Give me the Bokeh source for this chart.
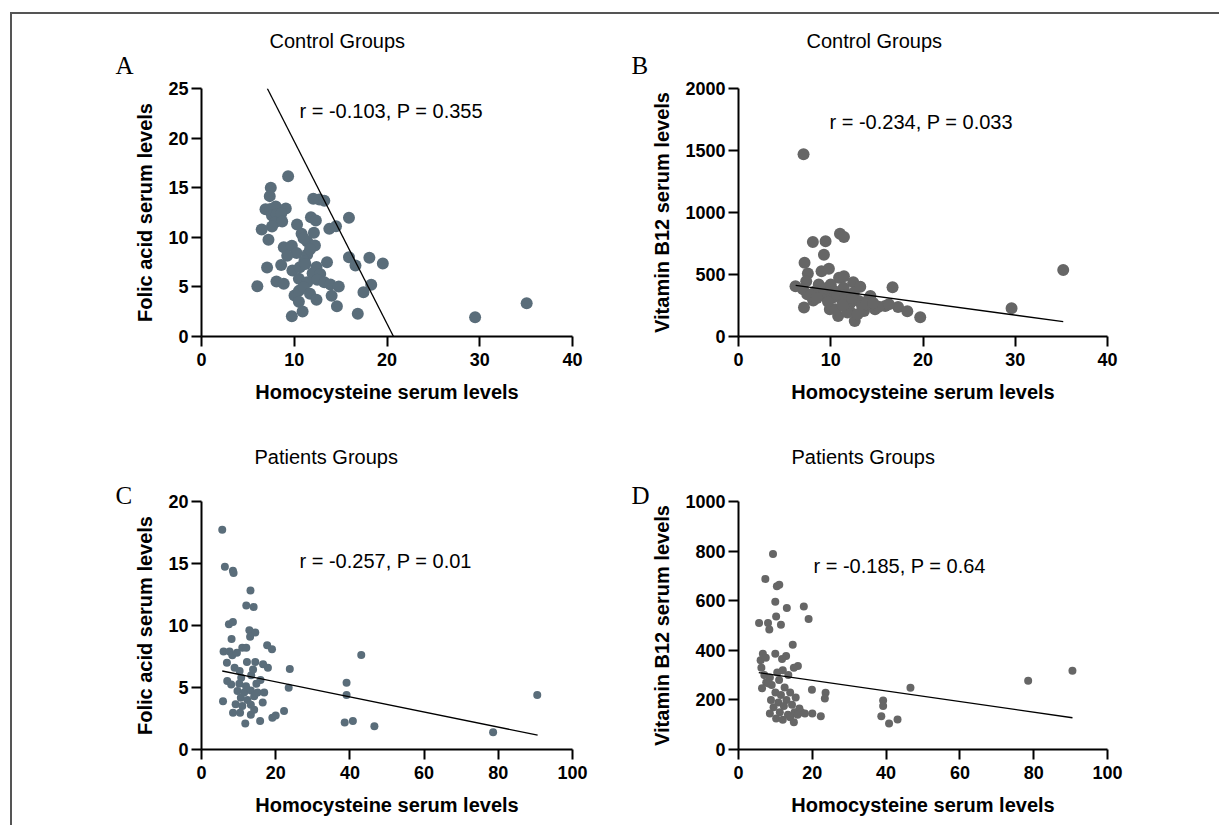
from bokeh.plotting import figure
from bokeh.layouts import row, column
from bokeh.models import Label, FixedTicker, Title, Div
from bokeh.embed import file_html
from bokeh.resources import INLINE

# ---------------- DATA ----------------
# Panel A: Control groups, Homocysteine vs Folic acid
a_hcy = [9.34, 7.47, 7.36, 12.05, 12.70, 13.24, 6.9, 7.43, 8.01, 9.09, 7.6, 8.1, 8.6,
         7.9, 8.7, 7.6, 11.8, 12.33, 15.9, 6.49, 10.3, 13.78, 14.5, 7.22, 10.79, 12.12,
         11.4, 12.23, 11.0, 8.87, 9.74, 10.25, 9.24, 11.4, 11.7, 11.1, 15.9, 18.1, 19.55,
         16.6, 13.53, 7.07, 8.59, 9.8, 10.6, 11.2, 12.4, 11.98, 12.8, 6.02, 8.08, 8.87,
         10.5, 11.4, 12.48, 13.24, 13.9, 14.8, 18.3, 17.46, 10.03, 10.5, 11.0, 11.7, 12.4,
         14.03, 14.6, 10.5, 10.9, 9.74, 16.85, 29.5, 35.06]
a_fol = [16.16, 14.99, 14.15, 13.88, 13.80, 13.68, 12.83, 12.85, 13.1, 12.9, 12.2, 12.3, 12.4,
         11.5, 11.6, 11.1, 12.03, 11.69, 11.96, 10.79, 11.29, 10.85, 11.12, 9.75, 10.35, 10.45,
         9.58, 9.17, 9.9, 8.99, 9.16, 8.42, 8.15, 8.27, 8.8, 7.6, 8.0, 7.93, 7.36,
         7.16, 7.49, 6.96, 7.2, 6.65, 6.99, 7.3, 7.0, 6.38, 6.3, 5.07, 5.54, 5.31,
         5.81, 5.48, 5.71, 5.48, 5.24, 5.04, 5.21, 4.47, 4.13, 4.6, 5.0, 4.3, 3.70,
         4.1, 3.06, 3.5, 2.52, 2.05, 2.29, 1.95, 3.36]
a_fit_x = [7.1, 20.7]
a_fit_y = [25.0, 0.0]

# Panel B: Control groups, Homocysteine vs Vitamin B12
b_hcy = [7.05, 11.0, 11.43, 8.06, 9.44, 9.26, 7.16, 9.0, 9.8, 7.52, 35.2, 16.7, 29.6, 19.7,
         7.1, 12.6, 10.8, 6.18, 7.34, 8.7, 10.9, 11.43, 12.44, 13.2, 10.38, 14.3, 15.9, 17.3,
         18.3, 14.8, 13.6, 12.04, 9.9, 8.1, 7.45, 9.4, 11.2, 12.15, 13.05, 14.1, 8.35, 9.26,
         11.4, 12.5, 10.2, 13.4, 11.8, 10.5, 7.0, 7.8, 8.5, 9.7, 10.7, 11.6, 12.3, 13.8,
         15.2, 16.3, 12.9, 11.3, 9.5, 10.0, 14.6]
b_b12 = [1469, 829, 803, 762, 768, 660, 594, 527, 546, 508, 537, 398, 227, 155,
         233, 125, 166, 406, 446, 420, 473, 486, 438, 401, 366, 326, 246, 238,
         203, 219, 205, 205, 219, 291, 340, 326, 299, 273, 287, 299, 366, 353,
         393, 353, 313, 246, 193, 219, 380, 330, 310, 280, 340, 330, 310, 260,
         240, 260, 180, 250, 390, 420, 270]
b_fit_x = [6.2, 35.2]
b_fit_y = [412, 120]

# Panel C: Patients groups, Homocysteine vs Folic acid
c_hcy = [5.59, 6.3, 8.47, 8.65, 13.2, 12.07, 14.05, 7.39, 8.47, 12.9, 14.5, 13.1, 8.1, 17.7,
         19.0, 5.95, 7.57, 8.3, 9.55, 10.99, 12.07, 43.06, 6.85, 8.92, 10.27, 12.25, 14.5,
         16.6, 17.9, 23.8, 6.94, 8.0, 10.7, 13.4, 13.9, 15.9, 23.5, 39.1, 39.1, 90.5,
         9.7, 11.5, 13.3, 15.1, 16.9, 10.6, 12.4, 14.2, 16.5, 9.2, 11.0, 13.3, 12.0, 14.8,
         10.2, 5.8, 8.5, 10.4, 13.3, 14.2, 19.1, 20.0, 22.25, 11.8, 15.8, 38.6, 40.8, 46.6, 78.6]
c_fol = [17.73, 14.74, 14.41, 14.23, 12.82, 11.61, 11.5, 10.1, 10.29, 9.62, 9.43, 9.1, 8.92, 8.4,
         8.08, 7.9, 7.9, 7.6, 7.8, 8.2, 8.2, 7.62, 7.0, 6.6, 6.33, 7.05, 7.05,
         6.88, 6.6, 6.49, 5.52, 5.25, 5.79, 5.98, 6.45, 5.6, 4.98, 5.39, 4.39, 4.39,
         4.71, 4.6, 4.75, 4.6, 4.6, 4.17, 4.0, 4.3, 3.8, 3.64, 3.5, 3.6, 5.1, 5.3,
         5.3, 3.9, 2.96, 2.96, 2.8, 3.2, 2.56, 2.74, 3.1, 2.1, 2.3, 2.18, 2.29, 1.88, 1.4]
c_fit_x = [5.6, 90.6]
c_fit_y = [6.33, 1.16]

# Panel D: Patients groups, Homocysteine vs Vitamin B12
d_hcy = [9.35, 7.28, 10.4, 11.05, 9.97, 13.1, 17.7, 19.0, 5.57, 8.0, 10.2, 11.5, 8.35, 14.7,
         6.6, 6.0, 7.4, 9.97, 12.9, 11.8, 16.1, 15.0, 6.2, 7.0, 8.5, 10.5, 12.0, 13.5, 11.0,
         9.0, 7.5, 6.38, 8.2, 12.5, 14.0, 10.0, 11.5, 13.0, 15.5, 8.8, 10.8, 12.3, 14.5, 16.5,
         9.5, 11.2, 8.5, 13.4, 15.2, 17.0, 10.2, 12.0, 14.0, 16.0, 18.0, 20.0, 22.3, 15.0,
         19.9, 23.6, 23.4, 46.6, 78.5, 90.5, 39.2, 39.2, 38.7, 40.8, 43.1]
d_b12 = [788, 688, 658, 664, 596, 571, 577, 526, 510, 510, 536, 503, 484, 422,
         386, 360, 370, 386, 377, 365, 337, 330, 330, 300, 290, 310, 320, 300, 280,
         260, 270, 247, 266, 250, 230, 230, 220, 200, 210, 200, 190, 175, 180, 165,
         170, 150, 145, 140, 150, 150, 125, 120, 130, 140, 145, 145, 134, 110,
         241, 229, 206, 249, 277, 318, 198, 175, 134, 105, 121]
d_fit_x = [5.5, 90.5]
d_fit_y = [310, 128]

x_label = "Homocysteine serum levels"
ticks_x_ctrl = [0, 10, 20, 30, 40]
ticks_x_pat = [0, 20, 40, 60, 80, 100]
ticks_y_a = [0, 5, 10, 15, 20, 25]
ticks_y_b = [0, 500, 1000, 1500, 2000]
ticks_y_c = [0, 5, 10, 15, 20]
ticks_y_d = [0, 200, 400, 600, 800, 1000]

SANS = "Liberation Sans"
SERIF = "Liberation Serif"
BLUE = "#5a6d7a"
GREY = "#666666"

# approximate font metrics (fraction of font size)
SANS_DESC = 0.212
SERIF_ASC, SERIF_DESC = 0.891, 0.216
LET_SIZE, TTL_SIZE = 25, 20


def panel(w, h, bl, br, bt, bb, xr, yr, xt, yt, ylab, xs, ys, fx, fy, color, msize,
          letter, letter_dx, letter_gap, title, title_dx, title_gap, note, note_pos):
    """letter_gap / title_gap: distance (px) from text baseline up to frame top."""
    p = figure(width=w, height=h, x_range=xr, y_range=yr, output_backend="svg",
               toolbar_location=None, min_border_left=bl, min_border_right=br,
               min_border_top=bt, min_border_bottom=bb)
    p.xgrid.visible = False
    p.ygrid.visible = False
    p.outline_line_color = None
    p.xaxis.ticker = FixedTicker(ticks=xt)
    p.yaxis.ticker = FixedTicker(ticks=yt)
    for ax in (p.xaxis[0], p.yaxis[0]):
        ax.axis_line_width = 2
        ax.axis_line_color = "black"
        ax.major_tick_line_width = 2
        ax.major_tick_line_color = "black"
        ax.major_tick_in = 0
        ax.major_tick_out = 10
        ax.minor_tick_line_color = None
        ax.major_label_text_font = SANS
        ax.major_label_text_font_style = "bold"
        ax.major_label_text_font_size = "18px"
        ax.major_label_text_color = "black"
        ax.axis_label_text_font = SANS
        ax.axis_label_text_font_style = "bold"
        ax.axis_label_text_font_size = "20px"
        ax.axis_label_text_color = "black"
    p.xaxis.major_label_standoff = 6
    p.yaxis.major_label_standoff = 3
    p.xaxis.axis_label = x_label
    p.yaxis.axis_label = ylab
    p.xaxis.axis_label_standoff = 12
    p.yaxis.axis_label_standoff = 9
    p.scatter(xs, ys, size=msize, fill_color=color, line_color=None)
    p.line(fx, fy, line_color="black", line_width=1.3)

    # letter title (nearest to frame), then group title above it
    l_h = (SERIF_ASC + SERIF_DESC) * LET_SIZE
    l_bottom = letter_gap - SERIF_DESC * LET_SIZE      # text-box bottom above frame top
    s1 = 2 * l_bottom
    top1 = 2 + l_h + s1                                 # panel top above frame top
    t_bottom = title_gap - SANS_DESC * TTL_SIZE
    s2 = 2 * (t_bottom - top1)
    p.add_layout(Title(text=letter, align="left", offset=letter_dx, standoff=s1,
                       text_font=SERIF, text_font_size=f"{LET_SIZE}px",
                       text_font_style="normal", text_color="black"), "above")
    p.add_layout(Title(text=title, align="left", offset=title_dx, standoff=s2,
                       text_font=SANS, text_font_size=f"{TTL_SIZE}px",
                       text_font_style="normal", text_color="black"), "above")
    p.add_layout(Label(x=note_pos[0], y=note_pos[1], x_units="screen", y_units="screen",
                       text=note, text_font=SANS, text_font_size="20px",
                       text_baseline="alphabetic", text_color="black"))
    return p


pA = panel(600, 414, 201, 28, 88, 78, (0, 40), (0, 25), ticks_x_ctrl, ticks_y_a,
           "Folic acid serum levels", a_hcy, a_fol, a_fit_x, a_fit_y, BLUE, 12,
           "A", -86, 15, "Control Groups", 68, 42, "r = -0.103, P = 0.355", (98, 226))
pB = panel(610, 414, 138, 103, 88, 78, (0, 40), (0, 2000), ticks_x_ctrl, ticks_y_b,
           "Vitamin B12 serum levels", b_hcy, b_b12, b_fit_x, b_fit_y, GREY, 12,
           "B", -107, 15, "Control Groups", 68, 42, "r = -0.234, P = 0.033", (91, 215))
pC = panel(600, 405, 201, 28, 87, 70, (0, 100), (0, 20), ticks_x_pat, ticks_y_c,
           "Folic acid serum levels", c_hcy, c_fol, c_fit_x, c_fit_y, BLUE, 8,
           "C", -86, -2, "Patients Groups", 53, 39, "r = -0.257, P = 0.01", (98, 189))
pD = panel(610, 405, 138, 103, 87, 70, (0, 100), (0, 1000), ticks_x_pat, ticks_y_d,
           "Vitamin B12 serum levels", d_hcy, d_b12, d_fit_x, d_fit_y, GREY, 8,
           "D", -107, -2, "Patients Groups", 53, 39, "r = -0.185, P = 0.64", (75, 184))

frame_line = Div(width=1, height=1,
                 text='<div style="position:fixed;left:10px;top:12px;width:1400px;'
                      'height:1000px;border-left:2px solid #555555;'
                      'border-top:2px solid #555555;pointer-events:none;"></div>')

layout = column(row(pA, pB), row(pC, pD), frame_line)

open("out.html", "w").write(file_html(layout, INLINE))
